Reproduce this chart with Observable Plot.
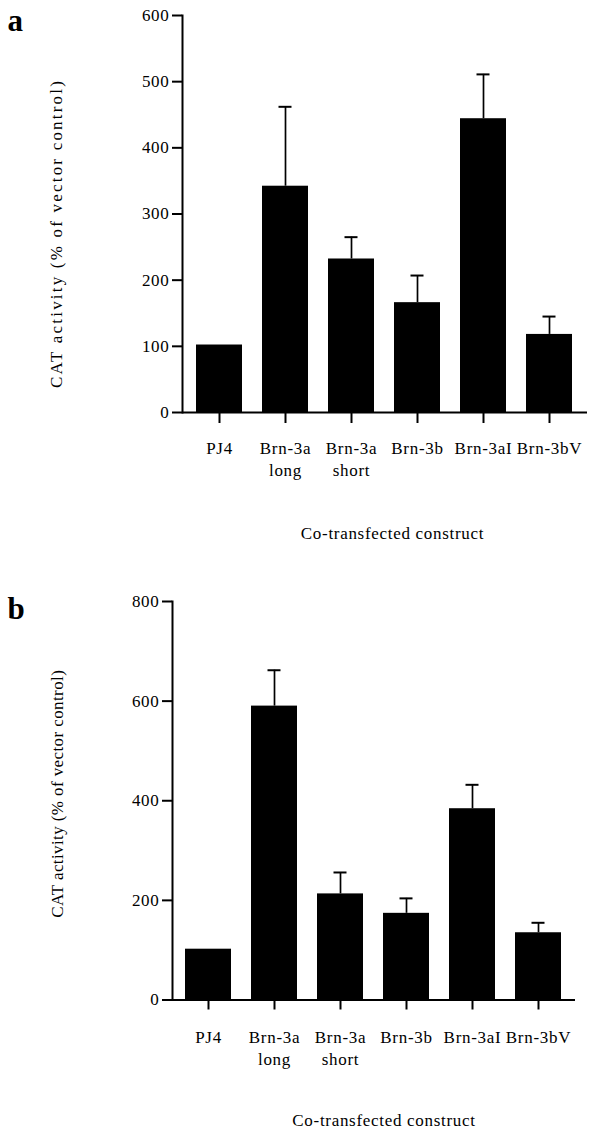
<!DOCTYPE html>
<html>
<head>
<meta charset="utf-8">
<script src="https://cdn.jsdelivr.net/npm/d3@7"></script>
<script src="https://cdn.jsdelivr.net/npm/@observablehq/plot@0.6"></script>
<style>
  html, body { margin: 0; padding: 0; background: #fff; }
  #chart { position: relative; width: 597px; height: 1130px; overflow: hidden; }
  #chart svg { display: block; background: #fff; }
</style>
</head>
<body>
<div id="chart"></div>
<script>
const categories = ["PJ4", "Brn-3a long", "Brn-3a short", "Brn-3b", "Brn-3aI", "Brn-3bV"];
const tickLabels = ["PJ4", "Brn-3a\nlong", "Brn-3a\nshort", "Brn-3b", "Brn-3aI", "Brn-3bV"];
const valuesA = [102, 342, 232, 166, 444, 118];
const errorsA = [0, 120, 33, 41, 67, 27];
const valuesB = [102, 590, 213, 174, 384, 135];
const errorsB = [0, 72, 43, 30, 48, 20];
const ticksA = [0, 100, 200, 300, 400, 500, 600];
const ticksB = [0, 200, 400, 600, 800];
const yLabel = "CAT activity (% of vector control)";
const xLabel = "Co-transfected construct";

const FONT = "'Liberation Serif', 'DejaVu Serif', serif";

function panel(cfg) {
  const data = categories.map((c, i) => ({name: c, value: cfg.values[i], err: cfg.errors[i]}));
  const withErr = data.filter(d => d.err > 0);
  const labelOf = new Map(categories.map((c, i) => [c, tickLabels[i]]));
  const svg = Plot.plot({
    width: 597,
    height: cfg.height,
    marginTop: cfg.marginTop,
    marginBottom: cfg.marginBottom,
    marginLeft: cfg.marginLeft,
    marginRight: cfg.marginRight,
    style: {fontFamily: FONT, fontSize: "17px", color: "#000", background: "#fff"},
    x: {type: "band", domain: categories, paddingInner: 0.3, paddingOuter: cfg.paddingOuter},
    y: {domain: [0, cfg.max]},
    marks: [
      Plot.barY(data, {x: "name", y: "value", fill: "#000"}),
      Plot.ruleX(withErr, {x: "name", y1: "value", y2: d => d.value + d.err, stroke: "#000", strokeWidth: 1.7}),
      Plot.tickY(withErr, {x: "name", y: d => d.value + d.err, stroke: "#000", strokeWidth: 2, insetLeft: 16.5, insetRight: 16.5}),
      Plot.frame({anchor: "left", stroke: "#000", strokeWidth: 2}),
      Plot.ruleY([0], {stroke: "#000", strokeWidth: 2}),
      Plot.axisY({ticks: cfg.ticks, tickSize: 10, tickPadding: 3, strokeWidth: 2, fontSize: 17, label: null}),
      Plot.axisX({tickSize: cfg.xTickSize, tickPadding: cfg.xTickPadding, strokeWidth: 2, fontSize: 17, lineHeight: 1.28,
        tickFormat: d => labelOf.get(d), label: null}),
      Plot.text([yLabel], {frameAnchor: "left", rotate: -90, dx: cfg.yLabelDx, dy: cfg.yLabelDy, fontSize: 17, textAnchor: "middle", lineAnchor: "middle"}),
      Plot.text([xLabel], {frameAnchor: "bottom", dx: cfg.xLabelDx, dy: cfg.xLabelDy, fontSize: 17, textAnchor: "middle", lineAnchor: "middle"}),
      Plot.text([cfg.letter], {frameAnchor: "top-left", dx: cfg.letterDx, dy: cfg.letterDy, fontSize: 31, fontWeight: "bold", textAnchor: "start", lineAnchor: "middle"})
    ]
  });
  const s = d3.select(svg);
  s.selectAll("text").style("letter-spacing", "0.7px");
  s.selectAll("text").filter(function() { return this.textContent === yLabel; }).style("letter-spacing", cfg.yLabelSpacing);
  s.selectAll("text").filter(function() { return this.textContent === cfg.letter; }).style("letter-spacing", "0px");
  return svg;
}

const chart = document.getElementById("chart");
chart.appendChild(panel({
  letter: "a", values: valuesA, errors: errorsA, ticks: ticksA, max: 600,
  height: 560, marginTop: 15, marginBottom: 148, marginLeft: 182, marginRight: 10, paddingOuter: 0.18,
  xTickSize: 11, xTickPadding: 15,
  yLabelDx: -126, yLabelDy: 19.5, yLabelSpacing: "2.2px",
  xLabelDx: 7.5, xLabelDy: 120.6,
  letterDx: -175, letterDy: 6
}));
chart.appendChild(panel({
  letter: "b", values: valuesB, errors: errorsB, ticks: ticksB, max: 800,
  height: 570, marginTop: 41, marginBottom: 130.5, marginLeft: 172, marginRight: 22, paddingOuter: 0.17,
  xTickSize: 10, xTickPadding: 18,
  yLabelDx: -115, yLabelDy: -7, yLabelSpacing: "0.4px",
  xLabelDx: 10, xLabelDy: 121,
  letterDx: -165, letterDy: 8
}));
</script>
</body>
</html>
